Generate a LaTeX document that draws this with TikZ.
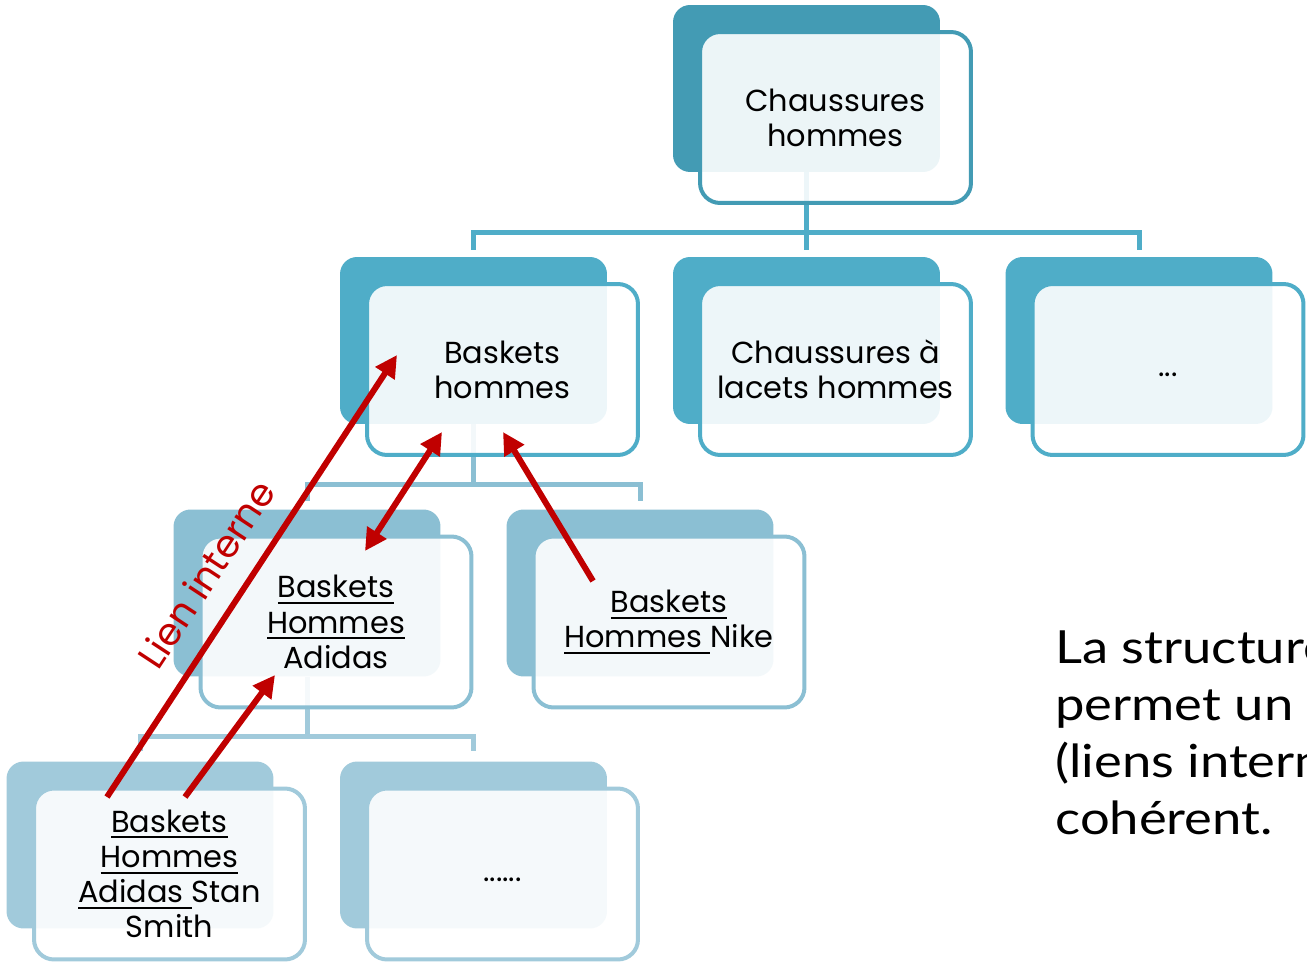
\documentclass[tikz,border=0pt]{standalone}
\usepackage{fontspec}
\setmainfont{Poppins}
\newfontfamily\latofont[FakeStretch=1.15]{Lato}
\usetikzlibrary{arrows.meta}
\definecolor{cA}{HTML}{439BB4}
\definecolor{cB}{HTML}{4FADC8}
\definecolor{cC}{HTML}{8BBFD3}
\definecolor{cD}{HTML}{A1CADB}
\definecolor{redL}{HTML}{C00000}
\newcommand\myul[1]{\setbox0\hbox{#1}\rlap{\rule[-3.4pt]{\wd0}{1.1pt}}\box0}
\pgfdeclarelayer{bg}
\pgfsetlayers{bg,main}
\tikzset{
  back/.style={fill=#1, draw=none, rounded corners=0.34cm, minimum width=5.34cm, minimum height=3.34cm, inner sep=0pt},
  front/.style={draw=#1, fill=white, fill opacity=0.9, draw opacity=1, text opacity=1, line width=0.08cm,
    rounded corners=0.4cm, minimum width=5.42cm, minimum height=3.42cm, align=center, inner sep=0pt,
    font=\fontsize{17.3}{20}\selectfont},
  conn/.style={draw=#1, line width=0.1cm},
  redarrow/.style={draw=redL, line width=0.12cm, -{Triangle[length=0.44cm,width=0.44cm]}},
  redboth/.style={draw=redL, line width=0.12cm, {Triangle[length=0.44cm,width=0.44cm]}-{Triangle[length=0.44cm,width=0.44cm]}}
}
\begin{document}
\begin{tikzpicture}[x=0.02cm,y=-0.02cm]
\useasboundingbox (0,0) rectangle (1307,962);

% level 1
\node[back=cA] (b1) at (806.5,88.5) {};
\node[front=cA] (f1) at (835.5,117.5) {Chaussures\\hommes};
% level 2
\node[back=cB] (b2a) at (473.5,340.5) {};
\node[front=cB] (f2a) at (502.5,369.5) {Baskets\\hommes};
\node[back=cB] (b2b) at (806.5,340.5) {};
\node[front=cB] (f2b) at (835.5,369.5) {Chaussures à\\lacets hommes};
\node[back=cB] (b2c) at (1139,340.5) {};
\node[front=cB] (f2c) at (1168,369.5) {\strut...};
% level 3
\node[back=cC] (b3a) at (307,593) {};
\node[front=cC] (f3a) at (336,622) {\myul{Baskets}\\\myul{Hommes}\\Adidas};
\node[back=cC] (b3b) at (640,593) {};
\node[front=cC] (f3b) at (669,622) {\myul{Baskets}\\\myul{Hommes }Nike};
% level 4
\node[back=cD] (b4a) at (140,845) {};
\node[front=cD] (f4a) at (169.5,874) {\myul{Baskets}\\\myul{Hommes}\\\myul{Adidas }Stan\\Smith};
\node[back=cD] (b4b) at (473.5,845) {};
\node[front=cD] (f4b) at (502.5,874) {\strut......};

% connectors
\coordinate (j1) at (806.5,233);
\coordinate (j2) at (473.5,484);
\coordinate (j3) at (307,736);
\begin{pgfonlayer}{bg}
\draw[conn=cB] (b1.south) -- (j1);
\draw[conn=cB, shorten >=0.14cm] (j1) -| (b2a.north);
\draw[conn=cB, shorten >=0.14cm] (j1) -| (b2c.north);
\draw[conn=cB, shorten >=0.14cm] (j1) -- (b2b.north);
\draw[conn=cC] (b2a.south) -- (j2);
\draw[conn=cC, shorten >=0.16cm] (j2) -| (b3a.north);
\draw[conn=cC, shorten >=0.16cm] (j2) -| (b3b.north);
\draw[conn=cD] (b3a.south) -- (j3);
\draw[conn=cD, shorten >=0.2cm] (j3) -| (b4a.north);
\draw[conn=cD, shorten >=0.2cm] (j3) -| (b4b.north);
\end{pgfonlayer}

% red internal links
\coordinate (r1s) at (107,797);
\coordinate (r1e) at (397,355);
\coordinate (r2s) at (365,551);
\coordinate (r2e) at (442,432);
\coordinate (r3s) at (593,581);
\coordinate (r3e) at (503,432);
\coordinate (r4s) at (185,797);
\coordinate (r4e) at (275,675);
\draw[redarrow] (r1s) -- (r1e);
\draw[redboth] (r2s) -- (r2e);
\draw[redarrow] (r3s) -- (r3e);
\draw[redarrow] (r4s) -- (r4e);
\node[rotate=56.7, text=redL, font=\fontsize{21.5}{24}\selectfont, inner sep=0pt] (lbl) at (206,574) {Lien interne};

% side text
\node[anchor=north west, align=left, inner sep=0pt, font=\latofont\fontsize{26}{32.5}\selectfont] (txt) at (1055,630)
  {La structure\\permet un\\(liens internes)\\cohérent.};
\end{tikzpicture}
\end{document}
